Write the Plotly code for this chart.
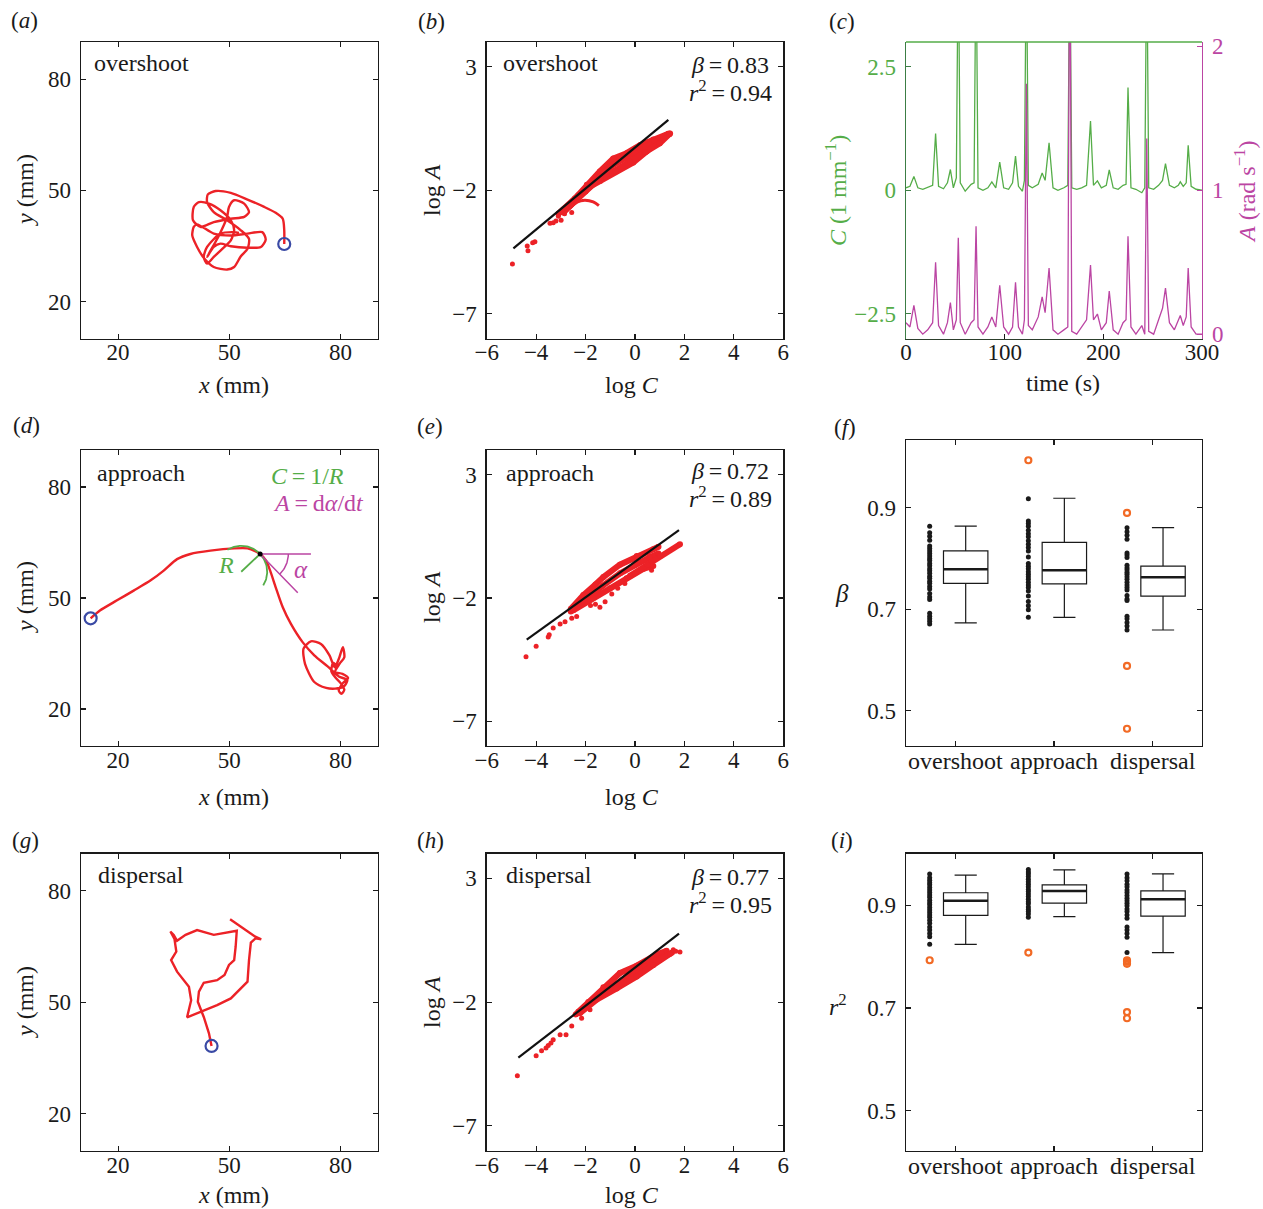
import numpy as np
import plotly.graph_objects as go

W, H = 1263, 1209
FONT = "Liberation Serif"
INK = "#1a1a1a"
RED = "#ec2227"
BLUE = "#3a4aa5"
GREEN = "#55ad48"
GREEN_AX = "#3c7d45"
MAGENTA = "#bb45a3"
ORANGE = "#f26a25"
TS = "\u2009"  # thin space

# ---------------- trajectories (mm) ----------------
traj_a_x = [64.8, 64.8, 64.4, 62.5, 59.4, 54.9, 50.4, 46.3, 44.2, 44.0, 45.8, 49.4, 53.1, 55.3, 54.9,
            53.1, 51.3, 49.4, 45.8, 43.3, 41.3, 40.0, 40.4, 41.3, 45.8, 50.4, 54.9, 58.9, 59.8, 58.5,
            54.9, 50.4, 47.6, 45.8, 44.0, 47.2, 49.4, 49.9, 51.3, 54.0, 55.3, 54.0, 50.4, 45.8, 42.2,
            40.2, 40.4, 41.8, 44.5, 47.6, 50.4, 51.3, 50.4, 48.1, 45.8, 44.0, 43.1, 44.0, 47.6, 51.3, 52.6]
traj_a_y = [35.5, 39.2, 42.3, 43.9, 45.5, 47.5, 49.3, 49.8, 48.9, 46.8, 44.1, 41.9, 39.2, 36.9, 34.2,
            32.2, 29.3, 28.6, 29.3, 31.5, 34.7, 37.8, 40.1, 40.8, 38.3, 37.8, 38.3, 38.7, 36.7, 34.7,
            34.5, 34.9, 35.6, 34.7, 32.0, 37.8, 42.8, 45.5, 47.3, 46.4, 44.1, 42.8, 42.3, 41.4, 40.1,
            41.9, 45.5, 46.8, 46.4, 44.6, 41.9, 39.2, 36.5, 34.2, 32.0, 30.2, 32.0, 34.7, 38.3, 38.7, 38.5]

traj_d_x = [12.6, 15.1, 19.6, 24.2, 28.7, 32.3, 35.9, 39.5, 44.9, 51.3, 54.9, 57.1, 58.3, 59.9, 61.0,
            62.5, 64.4, 66.6, 69.8, 72.9, 76.5, 79.5, 81.8, 80.8, 78.5, 76.1, 72.9, 70.4, 70.0, 72.0,
            74.7, 77.0, 78.4, 79.5, 80.6, 81.0, 79.7, 78.5, 80.5, 82.0, 80.6, 79.5, 80.2, 81.0, 80.0,
            78.6, 77.5, 78.0, 79.0]
traj_d_y = [44.5, 46.6, 49.3, 52.0, 54.7, 57.4, 60.5, 61.9, 62.8, 63.4, 63.4, 62.6, 61.9, 60.1, 57.4,
            52.9, 47.5, 43.0, 38.0, 34.5, 31.5, 28.8, 27.8, 26.0, 25.5, 25.7, 27.3, 32.2, 36.3, 38.3,
            37.6, 34.5, 31.3, 33.5, 36.7, 34.0, 32.2, 30.0, 29.5, 28.4, 27.0, 25.0, 24.1, 25.2, 27.0,
            28.5, 30.2, 32.5, 31.5]

traj_g_x = [45.2, 44.5, 43.1, 41.5, 41.8, 43.1, 46.7, 48.7, 49.9, 51.3, 51.7, 52.0, 45.8, 41.3, 38.2,
            35.9, 35.0, 34.1, 35.2, 35.7, 34.3, 35.9, 39.1, 39.7, 38.6, 42.2, 46.7, 50.4, 54.9, 55.3,
            55.8, 57.1, 58.6, 57.0, 50.2]
traj_g_y = [38.2, 41.6, 46.0, 50.1, 52.8, 55.2, 55.9, 57.3, 60.0, 61.3, 64.9, 69.2, 68.1, 69.4, 68.1,
            66.5, 68.1, 69.0, 67.0, 63.6, 61.3, 58.2, 54.1, 50.5, 45.9, 47.4, 49.2, 51.0, 55.5, 61.3,
            66.0, 67.2, 66.9, 67.6, 72.3]

# curvature / angular-speed construction in (d)
d_point = (58.3, 61.9)
d_center = (53.2, 57.1)
d_radius = 7.0
d_arc_deg = (-32, 122)
d_alpha_r = 7.6
d_alpha_deg = (-46, 0)
d_horiz_end = 72.0
d_tangent_len = 14.6

# ---------------- log C – log A ----------------
b_fit = dict(beta=0.83, icpt=-0.27, x0=-4.92, x1=1.35)
b_strands_x = [[-2.9, -2.43, -1.95, -1.42, -0.88, -0.34, 0.2, 0.74, 1.35],
               [-3.1, -2.29, -1.82, -1.41, -0.75, -0.07, 0.47, 0.88, 1.42],
               [-2.9, -2.2, -1.6, -1.0, -0.4, 0.2, 0.8, 1.38],
               [-2.6, -2.0, -1.4, -0.8, -0.2, 0.4, 1.0, 1.4]]
b_strands_y = [[-2.85, -2.33, -1.78, -1.24, -0.72, -0.5, -0.18, 0.05, 0.28],
               [-2.95, -2.2, -1.85, -1.63, -1.23, -0.88, -0.43, -0.07, 0.3],
               [-2.9, -2.2, -1.6, -1.05, -0.7, -0.35, -0.02, 0.3],
               [-2.6, -2.05, -1.5, -1.2, -0.85, -0.45, -0.1, 0.28]]
b_hook_x = [-2.65, -2.43, -2.2, -2.02, -1.69, -1.46]
b_hook_y = [-2.75, -2.54, -2.43, -2.4, -2.47, -2.62]
b_pts_x = [-4.96, -4.36, -4.33, -4.14, -4.05, -3.44, -3.31, -3.2, -2.99, -2.56, -3.1, -2.85]
b_pts_y = [-4.98, -4.26, -4.45, -4.12, -4.08, -3.34, -3.32, -3.24, -3.21, -2.9, -3.05, -2.95]

e_fit = dict(beta=0.72, icpt=-0.53, x0=-4.38, x1=1.78)
e_strands_x = [[-2.6, -2.09, -1.6, -1.28, -0.61, 0.07, 0.74, 0.95],
               [-2.6, -2.0, -1.3, -0.6, 0.0, 0.6, 0.95],
               [-2.5, -1.69, -1.01, -0.34, 0.33, 0.74],
               [-0.2, 0.5, 1.01, 1.82]]
e_strands_y = [[-2.45, -1.88, -1.45, -1.15, -0.65, -0.3, -0.02, 0.08],
               [-2.55, -2.05, -1.5, -1.0, -0.65, -0.35, -0.2],
               [-2.5, -2.0, -1.6, -1.2, -0.82, -0.7],
               [-1.1, -0.65, -0.3, 0.18]]
e_pts_x = [-4.41, -4.0, -3.51, -3.47, -3.31, -3.03, -2.83, -2.56, -2.36, -1.42, -1.21, -0.94, -0.41, 0.67, -1.8, -1.6, -0.7]
e_pts_y = [-4.38, -3.96, -3.58, -3.49, -3.22, -3.05, -2.96, -2.82, -2.75, -2.38, -2.15, -1.84, -1.41, -0.87, -2.3, -2.25, -1.6]

h_fit = dict(beta=0.77, icpt=-0.61, x0=-4.72, x1=1.78)
h_strands_x = [[-2.3, -1.89, -1.28, -0.61, 0.07, 0.88, 1.28],
               [-2.4, -1.7, -1.0, -0.3, 0.4, 1.0, 1.5],
               [-2.23, -1.55, -0.74, 0.07, 0.74, 1.42]]
h_strands_y = [[-2.4, -2.0, -1.4, -0.83, -0.53, -0.08, 0.07],
               [-2.5, -1.95, -1.45, -0.95, -0.55, -0.25, 0.0],
               [-2.45, -1.9, -1.45, -0.97, -0.5, -0.05]]
h_pts_x = [-4.76, -4.0, -3.78, -3.6, -3.51, -3.4, -3.31, -3.03, -2.79, -2.56, -2.16, -1.82, 1.82, 1.55, 1.65]
h_pts_y = [-4.97, -4.17, -3.96, -3.85, -3.75, -3.65, -3.52, -3.32, -3.32, -2.96, -2.65, -2.31, 0.02, 0.11, 0.05]

# ---------------- (c) time series ----------------
time_s = [0, 4, 8, 12, 17, 22, 27, 30, 33, 38, 42, 45, 48, 51, 53, 55, 60, 66, 69, 71,
          73, 78, 83, 87, 91, 95, 99, 104, 108, 111, 114, 118, 120, 122, 124, 128, 134, 138, 141, 145,
          149, 154, 160, 164, 166, 168, 173, 178, 183, 187, 190, 194, 198, 203, 206, 210, 215, 220, 223, 225,
          228, 233, 239, 242, 244, 246, 251, 256, 260, 263, 267, 272, 276, 278, 281, 284, 286, 289, 294, 300]
curv_C = [0.05, 0.08, 0.28, 0.05, 0.02, 0.06, 0.10, 1.15, 0.08, 0.03, 0.15, 0.42, 0.05, 0.25, 5.0, 0.15, -0.02, 0.12, 0.15, 5.0,
          0.05, 0.0, 0.05, 0.17, 0.05, 0.57, 0.05, 0.02, 0.15, 0.69, 0.08, -0.02, 0.2, 5.0, 0.1, 0.05, 0.12, 0.35, 0.2, 0.96,
          0.05, 0.0, 0.05, 0.1, 5.0, 0.05, 0.02, 0.05, 0.1, 1.40, 0.1, 0.19, 0.05, 0.1, 0.41, 0.05, 0.02, 0.1, 0.12, 2.08,
          0.05, 0.02, -0.05, 0.05, 5.0, 0.05, 0.02, 0.1, 0.2, 0.54, 0.1, 0.05, 0.1, 0.17, 0.08, 0.15, 0.91, 0.08, 0.02, 0.0]
angvel_A = [0.08, 0.05, 0.20, 0.04, 0.0, 0.03, 0.08, 0.50, 0.06, 0.0, 0.08, 0.22, 0.03, 0.10, 0.67, 0.08, 0.0, 0.08, 0.10, 0.75,
            0.05, 0.0, 0.05, 0.12, 0.05, 0.34, 0.05, 0.0, 0.05, 0.36, 0.05, 0.0, 0.1, 1.74, 0.06, 0.03, 0.12, 0.26, 0.15, 0.46,
            0.03, 0.0, 0.03, 0.05, 3.0, 0.02, 0.0, 0.05, 0.10, 0.48, 0.10, 0.14, 0.03, 0.08, 0.30, 0.03, 0.0, 0.08, 0.10, 0.68,
            0.05, 0.0, 0.06, 0.0, 1.36, 0.02, 0.0, 0.10, 0.18, 0.32, 0.08, 0.03, 0.10, 0.13, 0.06, 0.12, 0.46, 0.05, 0.0, 0.0]

# ---------------- (f),(i) per-trajectory values ----------------
groups = ["overshoot", "approach", "dispersal"]
beta_over = [0.864, 0.851, 0.844, 0.836, 0.825, 0.820, 0.815, 0.810, 0.805, 0.800, 0.796, 0.790, 0.786, 0.780, 0.776,
             0.771, 0.765, 0.761, 0.755, 0.751, 0.745, 0.740, 0.731, 0.724, 0.719, 0.692, 0.686, 0.681, 0.676, 0.671]
beta_appr = [0.918, 0.874, 0.869, 0.864, 0.856, 0.849, 0.843, 0.835, 0.828, 0.822, 0.815, 0.803, 0.790, 0.785,
             0.780, 0.774, 0.769, 0.764, 0.759, 0.753, 0.748, 0.743, 0.736, 0.726, 0.715, 0.707, 0.699, 0.684]
beta_disp = [0.861, 0.853, 0.846, 0.838, 0.811, 0.807, 0.802, 0.787, 0.782, 0.778, 0.773, 0.769, 0.764,
             0.759, 0.753, 0.748, 0.743, 0.738, 0.727, 0.720, 0.717, 0.686, 0.681, 0.674, 0.667, 0.659]
beta_out = [[], [0.994], [0.890, 0.588, 0.464]]
beta_q1 = [0.751, 0.750, 0.726]
beta_med = [0.779, 0.777, 0.763]
beta_q3 = [0.815, 0.832, 0.785]
beta_lo = [0.673, 0.684, 0.659]
beta_hi = [0.864, 0.919, 0.861]

r2_over = [0.961, 0.954, 0.949, 0.944, 0.940, 0.935, 0.930, 0.925, 0.920, 0.916, 0.910, 0.905, 0.901,
           0.896, 0.891, 0.886, 0.881, 0.877, 0.871, 0.865, 0.858, 0.852, 0.845, 0.839, 0.824]
r2_appr = [0.970, 0.965, 0.961, 0.956, 0.951, 0.946, 0.941, 0.936, 0.931, 0.927, 0.922, 0.917, 0.912,
           0.907, 0.903, 0.897, 0.892, 0.888, 0.883, 0.877]
r2_disp = [0.961, 0.954, 0.948, 0.941, 0.936, 0.930, 0.925, 0.919, 0.914, 0.909, 0.904, 0.899, 0.893,
           0.888, 0.881, 0.875, 0.858, 0.852, 0.845, 0.838, 0.808]
r2_out = [[0.793], [0.808], [0.793, 0.790, 0.786, 0.692, 0.680]]
r2_q1 = [0.8805, 0.9045, 0.879]
r2_med = [0.909, 0.928, 0.912]
r2_q3 = [0.9245, 0.940, 0.928]
r2_lo = [0.824, 0.878, 0.808]
r2_hi = [0.959, 0.969, 0.9615]

# ---------------- layout helpers ----------------
def xd(a, b):
    return [a / W, b / W]


def yd(top, bottom):
    return [1 - bottom / H, 1 - top / H]


COLS = [(81, 377.7), (486.7, 783.3), (906, 1202)]
ROWS = [(42, 338.5), (450, 746), (853.5, 1150.7)]
X_STANDOFF = -7
Y_STANDOFF = 4


def axis(domain, rng, tickvals, anchor, ticktext=None, is_x=True, **kw):
    d = dict(domain=domain, range=rng, tickvals=tickvals, anchor=anchor, automargin=False,
             showline=True, linecolor=INK, linewidth=1.3, mirror='ticks',
             ticks='inside', ticklen=5, tickwidth=1.1, tickcolor=INK,
             showgrid=False, zeroline=False, fixedrange=True,
             ticklabelstandoff=X_STANDOFF if is_x else Y_STANDOFF,
             tickfont=dict(family=FONT, size=23, color=INK))
    if ticktext is not None:
        d['ticktext'] = ticktext
    d.update(kw)
    return d


fig = go.Figure()
lay = {}

for k, row in zip([1, 4, 7], ROWS):
    lay['xaxis' if k == 1 else f'xaxis{k}'] = axis(xd(*COLS[0]), [10, 90], [20, 50, 80], f'y{k}' if k > 1 else 'y')
    lay['yaxis' if k == 1 else f'yaxis{k}'] = axis(yd(*row), [10, 90], [20, 50, 80], f'x{k}' if k > 1 else 'x',
                                                    is_x=False)
for k, row in zip([2, 5, 8], ROWS):
    lay[f'xaxis{k}'] = axis(xd(*COLS[1]), [-6, 6], [-6, -4, -2, 0, 2, 4, 6], f'y{k}')
    lay[f'yaxis{k}'] = axis(yd(*row), [-8, 4], [-7, -2, 3], f'x{k}', is_x=False)
lay['xaxis3'] = axis(xd(*COLS[2]), [0, 300], [0, 100, 200, 300], 'y3', mirror=False, linecolor='#2c3f2c')
lay['yaxis3'] = axis(yd(*ROWS[0]), [-3, 3], [-2.5, 0, 2.5], 'x3', is_x=False, mirror=False, linecolor=GREEN_AX,
                     tickcolor=GREEN_AX, tickfont=dict(family=FONT, size=23, color=GREEN))
lay['yaxis10'] = axis(yd(*ROWS[0]), [-0.03, 2.03], [0, 1, 2], 'x3', is_x=False, mirror=False, overlaying='y3',
                      side='right', linecolor=MAGENTA, tickcolor=MAGENTA,
                      tickfont=dict(family=FONT, size=23, color=MAGENTA))
lay['xaxis6'] = axis(xd(*COLS[2]), [0.5, 3.5], [1, 2, 3], 'y6', ticktext=groups,
                     tickfont=dict(family=FONT, size=24, color=INK))
lay['yaxis6'] = axis(yd(440, 746), [0.43, 1.034], [0.5, 0.7, 0.9], 'x6', is_x=False)
lay['xaxis9'] = axis(xd(*COLS[2]), [0.5, 3.5], [1, 2, 3], 'y9', ticktext=groups,
                     tickfont=dict(family=FONT, size=24, color=INK))
lay['yaxis9'] = axis(yd(*ROWS[2]), [0.422, 1.001], [0.5, 0.7, 0.9], 'x9', is_x=False)


def ax(k):
    return ('x' if k == 1 else f'x{k}'), ('y' if k == 1 else f'y{k}')


# ---------------- trajectories ----------------
for k, tx, ty, shape in [(1, traj_a_x, traj_a_y, 'spline'), (4, traj_d_x, traj_d_y, 'spline'),
                         (7, traj_g_x, traj_g_y, 'linear')]:
    xa, ya = ax(k)
    fig.add_trace(go.Scatter(x=tx, y=ty, mode='lines', xaxis=xa, yaxis=ya,
                             line=dict(color=RED, width=2.4, shape=shape, smoothing=0.7),
                             hoverinfo='skip'))
    fig.add_trace(go.Scatter(x=[tx[0]], y=[ty[0]], mode='markers', xaxis=xa, yaxis=ya,
                             marker=dict(symbol='circle-open', size=12, color=BLUE, line=dict(width=2.2, color=BLUE)),
                             hoverinfo='skip'))

th = np.radians(np.linspace(d_arc_deg[0], d_arc_deg[1], 60))
fig.add_trace(go.Scatter(x=d_center[0] + d_radius * np.cos(th), y=d_center[1] + d_radius * np.sin(th),
                         mode='lines', xaxis='x4', yaxis='y4', line=dict(color=GREEN, width=1.8), hoverinfo='skip'))
fig.add_trace(go.Scatter(x=[d_center[0], d_center[0] + 0.9 * (d_point[0] - d_center[0])],
                         y=[d_center[1], d_center[1] + 0.9 * (d_point[1] - d_center[1])],
                         mode='lines', xaxis='x4', yaxis='y4', line=dict(color=GREEN, width=1.8), hoverinfo='skip'))
ta = np.radians(np.linspace(d_alpha_deg[0], d_alpha_deg[1], 30))
fig.add_trace(go.Scatter(x=d_point[0] + d_alpha_r * np.cos(ta), y=d_point[1] + d_alpha_r * np.sin(ta),
                         mode='lines', xaxis='x4', yaxis='y4', line=dict(color=MAGENTA, width=1.5), hoverinfo='skip'))
tang = np.radians(d_alpha_deg[0])
fig.add_trace(go.Scatter(x=[d_horiz_end, d_point[0], d_point[0] + d_tangent_len * np.cos(tang)],
                         y=[d_point[1], d_point[1], d_point[1] + d_tangent_len * np.sin(tang)],
                         mode='lines', xaxis='x4', yaxis='y4', line=dict(color=MAGENTA, width=1.5), hoverinfo='skip'))
fig.add_trace(go.Scatter(x=[d_point[0]], y=[d_point[1]], mode='markers', xaxis='x4', yaxis='y4',
                         marker=dict(color='black', size=5), hoverinfo='skip'))

# ---------------- log-log panels ----------------
for k, fit, sx, sy, hx, hy, px_, py_ in [
        (2, b_fit, b_strands_x, b_strands_y, b_hook_x, b_hook_y, b_pts_x, b_pts_y),
        (5, e_fit, e_strands_x, e_strands_y, None, None, e_pts_x, e_pts_y),
        (8, h_fit, h_strands_x, h_strands_y, None, None, h_pts_x, h_pts_y)]:
    xa, ya = f'x{k}', f'y{k}'
    for x_, y_ in zip(sx, sy):
        fig.add_trace(go.Scatter(x=x_, y=y_, mode='lines+markers', xaxis=xa, yaxis=ya,
                                 line=dict(color=RED, width=6), marker=dict(color=RED, size=6),
                                 hoverinfo='skip'))
    if hx is not None:
        fig.add_trace(go.Scatter(x=hx, y=hy, mode='lines', xaxis=xa, yaxis=ya,
                                 line=dict(color=RED, width=3, shape='spline'), hoverinfo='skip'))
    fig.add_trace(go.Scatter(x=px_, y=py_, mode='markers', xaxis=xa, yaxis=ya,
                             marker=dict(color=RED, size=5), hoverinfo='skip'))
    fx = [fit['x0'], fit['x1']]
    fig.add_trace(go.Scatter(x=fx, y=[fit['icpt'] + fit['beta'] * v for v in fx], mode='lines',
                             xaxis=xa, yaxis=ya, line=dict(color='#111', width=2.2), hoverinfo='skip'))

# ---------------- (c) ----------------
fig.add_trace(go.Scatter(x=time_s, y=curv_C, mode='lines', xaxis='x3', yaxis='y3',
                         line=dict(color=GREEN, width=1.3), hoverinfo='skip'))
fig.add_trace(go.Scatter(x=time_s, y=angvel_A, mode='lines', xaxis='x3', yaxis='y10',
                         line=dict(color=MAGENTA, width=1.3), hoverinfo='skip'))

# ---------------- (f), (i) ----------------
BOX_OFF, DOT_OFF, BOX_W = 0.105, -0.26, 0.45
for k, cols, outs, q1, med, q3, lo, hi in [
        (6, [beta_over, beta_appr, beta_disp], beta_out, beta_q1, beta_med, beta_q3, beta_lo, beta_hi),
        (9, [r2_over, r2_appr, r2_disp], r2_out, r2_q1, r2_med, r2_q3, r2_lo, r2_hi)]:
    xa, ya = f'x{k}', f'y{k}'
    pos = [i + 1 + BOX_OFF for i in range(3)]
    fig.add_trace(go.Box(x=pos, q1=q1, median=med, q3=q3, lowerfence=lo, upperfence=hi,
                         width=BOX_W, whiskerwidth=0.5, fillcolor='white', boxpoints=False,
                         line=dict(color=INK, width=1.2), xaxis=xa, yaxis=ya, hoverinfo='skip'))
    mx, my = [], []
    for p, m in zip(pos, med):
        mx += [p - BOX_W / 2, p + BOX_W / 2, None]
        my += [m, m, None]
    fig.add_trace(go.Scatter(x=mx, y=my, mode='lines', xaxis=xa, yaxis=ya,
                             line=dict(color=INK, width=2.6), hoverinfo='skip'))
    for i, vals in enumerate(cols):
        fig.add_trace(go.Scatter(x=[i + 1 + DOT_OFF] * len(vals), y=vals, mode='markers', xaxis=xa, yaxis=ya,
                                 marker=dict(color=INK, size=5), hoverinfo='skip'))
        if outs[i]:
            fig.add_trace(go.Scatter(x=[i + 1 + DOT_OFF] * len(outs[i]), y=outs[i], mode='markers',
                                     xaxis=xa, yaxis=ya,
                                     marker=dict(symbol='circle-open', color=ORANGE, size=6,
                                                 line=dict(color=ORANGE, width=2.2)), hoverinfo='skip'))

# ---------------- text ----------------
def ann(text, x, y, xanchor='center', size=24, color=INK, angle=0):
    fig.add_annotation(text=text, x=x / W, y=1 - y / H, xref='paper', yref='paper', showarrow=False,
                       xanchor=xanchor, yanchor='middle', textangle=angle,
                       font=dict(family=FONT, size=size, color=color))


for t, x, y in [("a", 24, 20), ("b", 431, 21), ("c", 842, 21), ("d", 26, 425), ("e", 430, 426),
                ("f", 845, 427), ("g", 25, 840), ("h", 430, 840), ("i", 842, 840)]:
    ann(f"(<i>{t}</i>)", x, y, size=23)

for y in [385, 797, 1195]:
    ann("<i>x</i> (mm)", 233, y)
    ann("log <i>C</i>", 632, y)
for y in [190, 597, 1002]:
    ann("<i>y</i> (mm)", 25, y, angle=-90)
    ann("log <i>A</i>", 432, y, angle=-90)
ann("time (s)", 1063, 383)
ann("<i>C</i> (1 mm<sup>−1</sup>)", 836, 190, color=GREEN, angle=-90)
ann("<i>A</i> (rad s<sup>−1</sup>)", 1245, 192, color=MAGENTA, angle=-90)
ann("<i>β</i>", 842, 593, size=25)
ann("<i>r</i><sup>2</sup>", 838, 1005)

for name, xl, xr, y in [("overshoot", 92, 501, 63), ("approach", 95, 504, 473), ("dispersal", 96, 504, 875)]:
    ann(name, xl, y, xanchor='left')
    ann(name, xr, y, xanchor='left')
for fit, r2v, yb, yr in [(b_fit, "0.94", 65, 91), (e_fit, "0.89", 471, 497), (h_fit, "0.95", 877, 903)]:
    ann(f"<i>β</i>{TS}={TS}{fit['beta']:.2f}", 771, yb, xanchor='right')
    ann(f"<i>r</i><sup>2</sup>{TS}={TS}{r2v}", 774, yr, xanchor='right')

ann(f"<i>C</i>{TS}={TS}1/<i>R</i>", 346, 476, xanchor='right', color=GREEN)
ann(f"<i>A</i>{TS}={TS}d<i>α</i>/d<i>t</i>", 366, 503, xanchor='right', color=MAGENTA)
fig.add_annotation(text="<i>R</i>", x=49.1, y=59.0, xref='x4', yref='y4', showarrow=False,
                   font=dict(family=FONT, size=24, color=GREEN))
fig.add_annotation(text="<i>α</i>", x=69.3, y=57.8, xref='x4', yref='y4', showarrow=False,
                   font=dict(family=FONT, size=25, color=MAGENTA))

fig.add_shape(type='line', xref='x3 domain', yref='y3 domain', x0=0, x1=1, y0=1, y1=1,
              line=dict(color=GREEN, width=1.6))

fig.update_layout(template='none', width=W, height=H, margin=dict(l=0, r=0, t=0, b=0, pad=0, autoexpand=False),
                  showlegend=False, paper_bgcolor='white', plot_bgcolor='white', **lay)
fig.write_html("out.html", config={'displayModeBar': False, 'staticPlot': True},
               post_script="document.body.style.margin='0px';document.body.style.overflow='hidden';")
